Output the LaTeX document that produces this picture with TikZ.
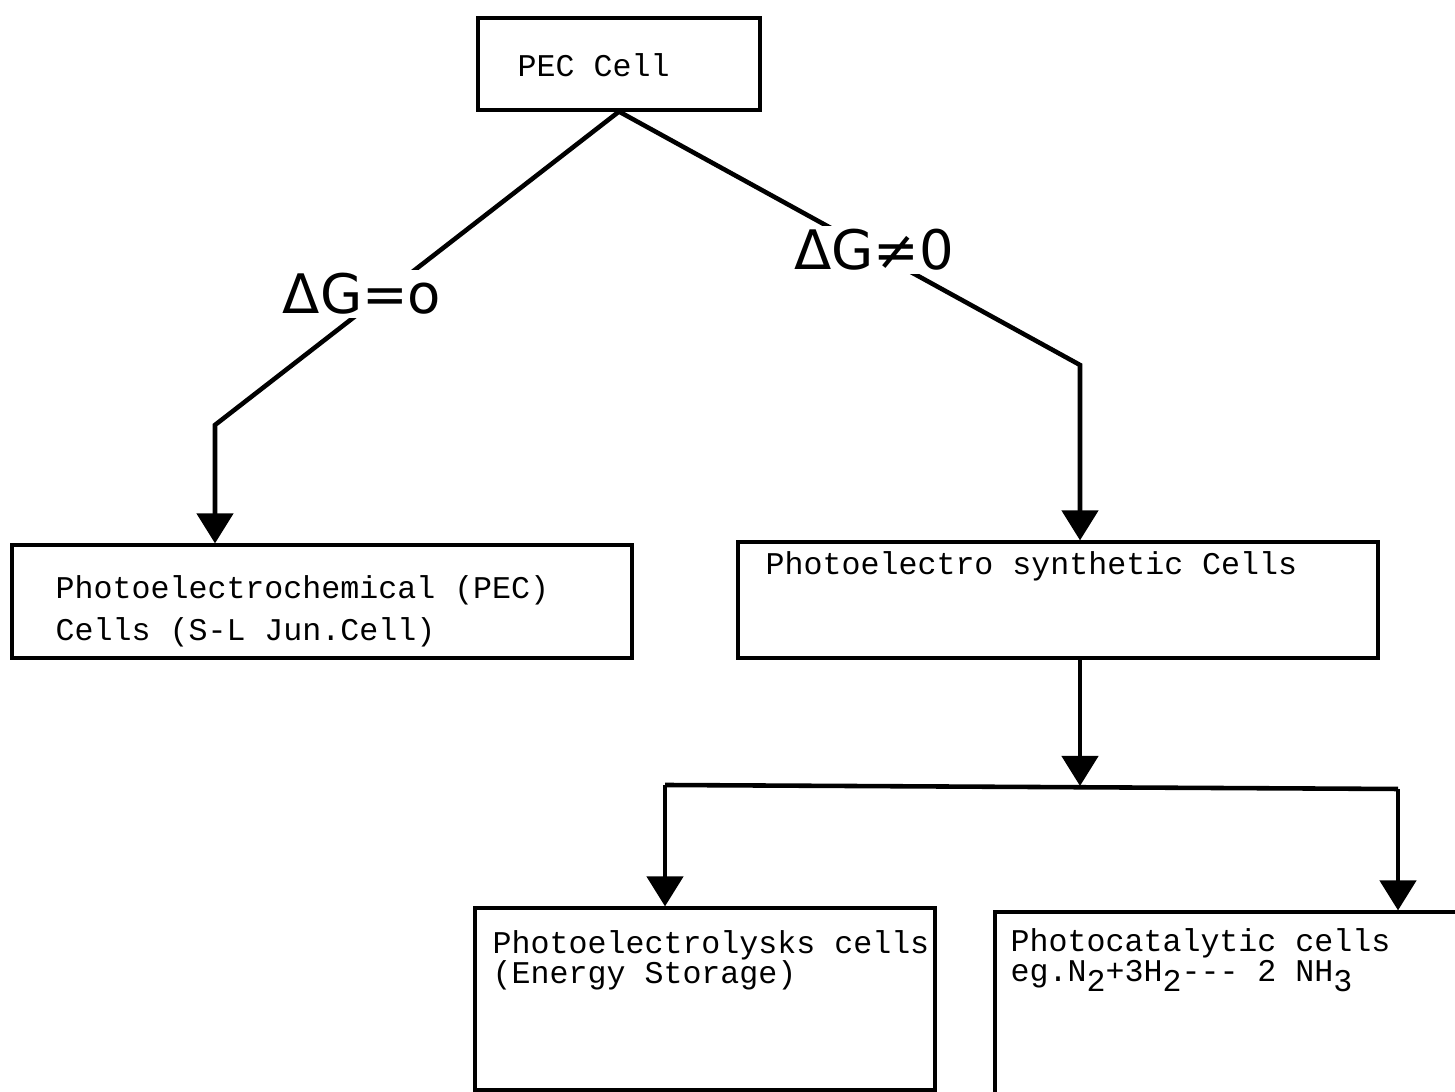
\documentclass[tikz,border=0pt]{standalone}
\usepackage{fontspec}
\newfontfamily\typefont{Liberation Mono}
\newfontfamily\handfont{DejaVu Sans}
\usetikzlibrary{positioning, arrows.meta}
\newcommand{\lowsub}[1]{\raisebox{-0.55ex}{#1}}

\begin{document}
\begin{tikzpicture}[
    box/.style={draw, line width=0.9pt, inner sep=0pt},
    txt/.style={font=\typefont\fontsize{9}{12}\selectfont, align=left, inner sep=0pt, anchor=west},
    txtsmall/.style={txt, font=\typefont\fontsize{9}{8.6}\selectfont},
    cond/.style={font=\handfont\fontsize{15.5}{15.5}\selectfont, fill=white, inner sep=1pt},
    link/.style={line width=1.3pt},
    flow/.style={link, -{Triangle[width=3.6mm, length=3mm]}}
]
\useasboundingbox (0,0) rectangle (14.55,10.92);
\clip (0,0) rectangle (14.55,10.92);

% === TOP ===
\node[box, minimum width=2.82cm, minimum height=0.92cm] (pec) at (6.19,10.28) {};
\node[txt] (pect) at (5.17,10.27) {PEC Cell};

% === SECOND ROW ===
\node[box, minimum width=6.2cm, minimum height=1.13cm] (pecL) at (3.22,4.905) {};
\node[txt] (pecLt) at (0.55,4.81) {Photoelectrochemical (PEC)\\Cells (S-L Jun.Cell)};

\node[box, minimum width=6.4cm, minimum height=1.16cm] (pes) at (10.58,4.92) {};
\node[txt] (pest) at (7.65,5.26) {Photoelectro synthetic Cells};

% === BOTTOM ROW ===
\node[box, minimum width=4.6cm, minimum height=1.82cm] (pel) at (7.05,0.93) {};
\node[txtsmall] (pelt) at (4.92,1.32) {Photoelectrolysks cells\\(Energy Storage)};

\node[box, minimum width=5.05cm, minimum height=2.1cm] (pcat) at (12.475,0.75) {};
\node[txtsmall] (pcatt) at (10.1,1.32) {Photocatalytic cells\\eg.N\lowsub{2}+3H\lowsub{2}-{}-{}- 2 NH\lowsub{3}};

% Connectors
\coordinate (bendL) at (2.15,6.67);
\coordinate (bendR) at (10.80,7.27);
\draw[flow] (pec.south) -- (bendL) -- (bendL |- pecL.north);
\draw[flow] (pec.south) -- (bendR) -- (bendR |- pes.north);

% Fork
\coordinate (split) at (10.80,3.06);
\coordinate (forkL) at (6.65,3.07);
\coordinate (forkR) at (13.98,3.03);
\draw[flow] (split |- pes.south) -- (split);
\draw[link] (forkL) -- (forkR);
\draw[flow] (forkL) -- (forkL |- pel.north);
\draw[flow] (forkR) -- (forkR |- pcat.north);

% Conditions
\node[cond] (dgzero) at (3.62,7.98) {ΔG=o};
\node[cond] (dgnz) at (8.74,8.42) {ΔG≠0};

\end{tikzpicture}
\end{document}
